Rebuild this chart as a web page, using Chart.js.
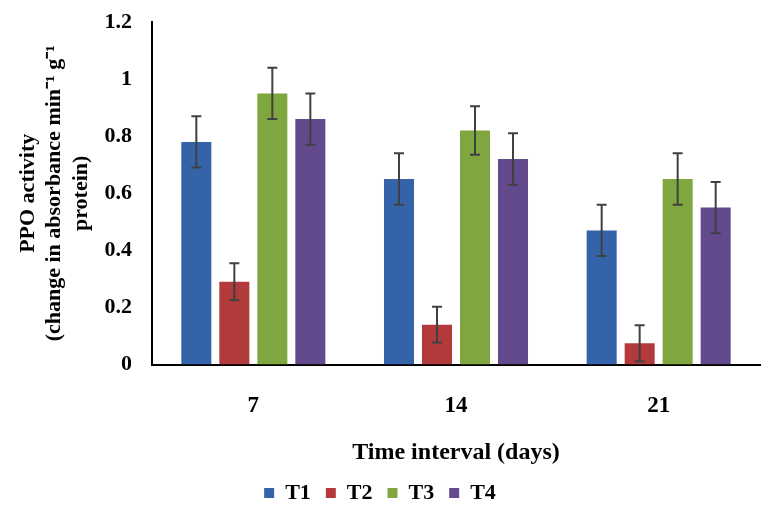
<!DOCTYPE html>
<html>
<head>
<meta charset="utf-8">
<script src="https://cdn.jsdelivr.net/npm/chart.js@4/dist/chart.umd.min.js"></script>
<style>
  html, body { margin: 0; padding: 0; background: #fff; }
  #wrap { width: 764px; height: 510px; }
</style>
</head>
<body>
<div id="wrap"><canvas id="myChart" width="764" height="510"></canvas></div>
<script>
const categories = ["7", "14", "21"];
const seriesNames = ["T1", "T2", "T3", "T4"];
const t1 = [0.78, 0.65, 0.47];
const t2 = [0.29, 0.14, 0.075];
const t3 = [0.95, 0.82, 0.65];
const t4 = [0.86, 0.72, 0.55];
const err1 = [0.09, 0.09, 0.09];
const err2 = [0.065, 0.063, 0.063];
const err3 = [0.09, 0.085, 0.09];
const err4 = [0.09, 0.09, 0.09];
const yTicks = [0, 0.2, 0.4, 0.6, 0.8, 1, 1.2];

const serif = "'Liberation Serif', 'Times New Roman', serif";
const colors = ["#3563a9", "#b33a3a", "#80a63f", "#634a8c"];

// draws the error bars on top of each bar
const errorBars = {
  id: "errorBars",
  afterDatasetsDraw(chart) {
    const c = chart.ctx;
    const y = chart.scales.y;
    c.save();
    c.strokeStyle = "#404040";
    c.lineWidth = 2;
    chart.data.datasets.forEach((ds, i) => {
      const meta = chart.getDatasetMeta(i);
      meta.data.forEach((bar, j) => {
        const v = ds.data[j];
        const e = ds.errors[j];
        const top = y.getPixelForValue(v + e);
        const bot = y.getPixelForValue(v - e);
        c.beginPath();
        c.moveTo(bar.x, top);
        c.lineTo(bar.x, bot);
        c.moveTo(bar.x - 5, top);
        c.lineTo(bar.x + 5, top);
        c.moveTo(bar.x - 5, bot);
        c.lineTo(bar.x + 5, bot);
        c.stroke();
      });
    });
    c.restore();
  },
};

const ctx = document.getElementById("myChart");

const chart = new Chart(ctx, {
  type: "bar",
  data: {
    labels: categories,
    datasets: [
      { label: seriesNames[0], data: t1, errors: err1, backgroundColor: colors[0] },
      { label: seriesNames[1], data: t2, errors: err2, backgroundColor: colors[1] },
      { label: seriesNames[2], data: t3, errors: err3, backgroundColor: colors[2] },
      { label: seriesNames[3], data: t4, errors: err4, backgroundColor: colors[3] },
    ],
  },
  options: {
    responsive: false,
    animation: false,
    layout: { padding: { top: 0, right: 4, bottom: -4, left: 0 } },
    datasets: {
      bar: { categoryPercentage: 0.75, barPercentage: 0.79 },
    },
    scales: {
      y: {
        min: 0,
        max: 1.2,
        afterBuildTicks(scale) {
          scale.ticks = yTicks.map((v) => ({ value: v }));
        },
        afterFit(scale) {
          scale.width = 152;
          scale.paddingTop = 22;
        },
        grid: { display: false, drawTicks: false },
        border: { display: true, color: "#000", width: 2 },
        ticks: {
          color: "#000",
          padding: 20,
          font: { family: serif, size: 22, weight: "bold" },
          callback: (v) => String(v),
        },
        title: {
          display: true,
          text: ["PPO activity", "(change in absorbance min\u207B\u00B9 g\u207B\u00B9", "protein)"],
          color: "#000",
          font: { family: serif, size: 22, weight: "bold", lineHeight: 1.2 },
          padding: { top: 15, bottom: 4 },
        },
      },
      x: {
        grid: { display: false, drawTicks: false },
        border: { display: true, color: "#000", width: 2 },
        ticks: {
          color: "#000",
          padding: 28,
          font: { family: serif, size: 23, weight: "bold" },
        },
        title: {
          display: true,
          text: "Time interval (days)",
          color: "#000",
          font: { family: serif, size: 24, weight: "bold" },
          padding: { top: -10, bottom: 0 },
        },
      },
    },
    plugins: {
      legend: {
        position: "bottom",
        labels: {
          color: "#000",
          boxWidth: 10,
          boxHeight: 10,
          padding: 15,
          font: { family: serif, size: 22, weight: "bold" },
        },
      },
      tooltip: { enabled: false },
    },
  },
  plugins: [errorBars],
});
</script>
</body>
</html>
